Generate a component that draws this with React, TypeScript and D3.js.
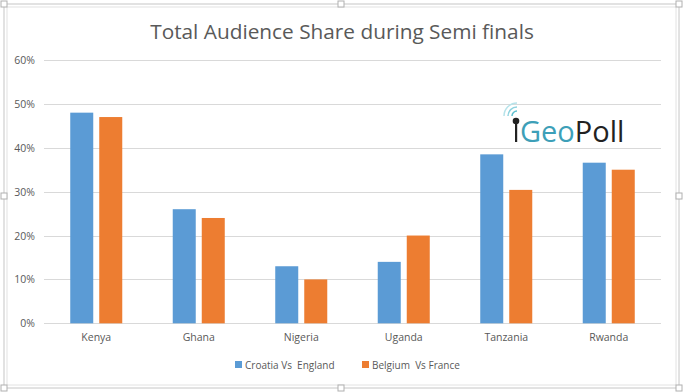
import React from "react";
import * as d3 from "d3";

const categories = ["Kenya", "Ghana", "Nigeria", "Uganda", "Tanzania", "Rwanda"];
const seriesNames = ["Croatia Vs  England", "Belgium  Vs France"];
const croatiaEngland = [48, 26, 13, 14, 38.5, 36.6];
const belgiumFrance = [47, 24, 10, 20, 30.4, 35];
const yTicks = [0, 10, 20, 30, 40, 50, 60];
const colors = ["#5b9bd5", "#ed7d31"];

const W = 683, H = 392;
const font = "'Open Sans', 'Liberation Sans', sans-serif";

export default function App() {
  const x = d3.scaleBand<string>().domain(categories).range([45, 660]).paddingInner(0).paddingOuter(0);
  const y = d3.scaleLinear().domain([0, 60]).range([323.3, 60]);
  const inner = d3.scaleBand<number>().domain([0, 1]).range([0, x.bandwidth()]).paddingInner(0.207).paddingOuter(0.87);
  const series = [croatiaEngland, belgiumFrance];
  const handles = [[4, 4], [341, 4], [679, 4], [4, 196], [679, 196], [4, 388], [341, 388], [679, 388]];
  return (
    <svg width={W} height={H} style={{ position: "absolute", left: 0, top: 0, background: "#fff" }}>
      <rect x={4} y={4} width={675} height={384} fill="#fff" stroke="#c6c6c6" strokeWidth={1} />
      <rect x={7} y={7} width={669} height={378} fill="none" stroke="#e2e2e2" strokeWidth={1} />
      {handles.map(([hx, hy], i) => (
        <rect key={i} x={hx - 3} y={hy - 3} width={6} height={6} fill="#fff" stroke="#b0b0b0" />
      ))}
      <text x={342} y={39} textAnchor="middle" fontFamily={font} fontSize={20.8} fill="#595959">
        Total Audience Share during Semi finals
      </text>
      {yTicks.map((t) => (
        <g key={t}>
          <line x1={44} x2={661} y1={Math.round(y(t)) + 0.5} y2={Math.round(y(t)) + 0.5} stroke="#d9d9d9" />
          <text x={35} y={y(t) + 4} textAnchor="end" fontFamily={font} fontSize={10.5} fill="#595959">
            {t}%
          </text>
        </g>
      ))}
      {categories.map((c, i) => (
        <g key={c}>
          {series.map((s, j) => (
            <rect key={j} x={(x(c) as number) + (inner(j) as number)} y={y(s[i])} width={inner.bandwidth()} height={y(0) - y(s[i])} fill={colors[j]} />
          ))}
          <text x={(x(c) as number) + x.bandwidth() / 2} y={341} textAnchor="middle" fontFamily={font} fontSize={10.5} fill="#595959">
            {c}
          </text>
        </g>
      ))}
      {seriesNames.map((n, j) => {
        const lx = j === 0 ? 235 : 362;
        return (
          <g key={n}>
            <rect x={lx} y={361} width={7} height={7} fill={colors[j]} />
            <text x={lx + 10} y={368.5} fontFamily={font} fontSize={10} fill="#595959" style={{ whiteSpace: "pre" }}>
              {n}
            </text>
          </g>
        );
      })}
      <g>
        <path d="M 508 116 A 9 9 0 0 1 517 107" fill="none" stroke="#8fd3df" strokeWidth={1.5} />
        <path d="M 504 116 A 13 13 0 0 1 517 103" fill="none" stroke="#b7e3ea" strokeWidth={1.5} />
        <path d="M 512 116 A 5 5 0 0 1 517 111" fill="none" stroke="#5fc0d0" strokeWidth={1.5} />
        <circle cx={516} cy={121} r={3.3} fill="#222" />
        <rect x={515} y={121} width={2.2} height={21} fill="#222" />
        <text x={520} y={142} fontFamily={font} fontSize={29} style={{ whiteSpace: "pre" }}>
          <tspan fill="#3d9fb8">Geo</tspan>
          <tspan fill="#222">Poll</tspan>
        </text>
      </g>
    </svg>
  );
}
